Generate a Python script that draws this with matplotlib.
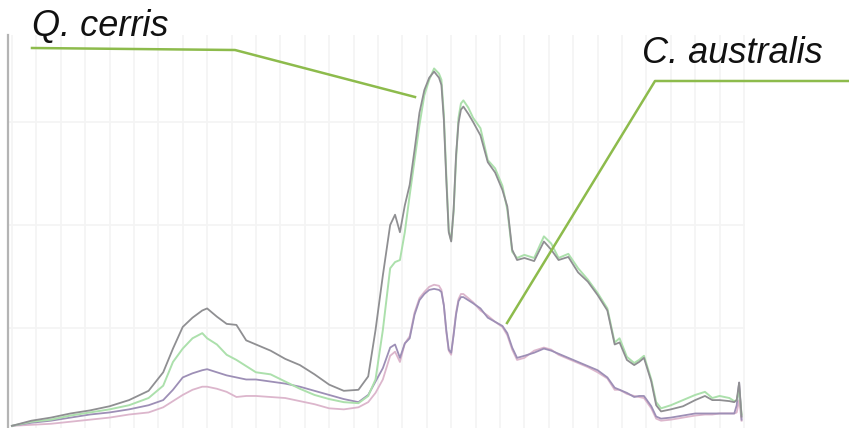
import matplotlib.pyplot as plt
from matplotlib.lines import Line2D

# channel positions shared by all four spectra
channel = [0, 8, 16, 24, 32, 40, 48, 56,
           62, 66, 70, 74, 78, 80, 84, 88, 92, 96,
           100, 106, 112, 118, 124, 130, 136, 142, 146, 149,
           152, 155, 157, 159, 161, 163, 165, 167, 169, 171,
           173, 175, 176, 177, 178, 179, 180, 181, 182, 183,
           184, 185, 187, 189, 192, 195, 198, 201, 203, 205,
           207, 210, 214, 218, 221, 224, 228, 232, 236, 240,
           244, 247, 249, 252, 255, 257, 259, 262, 264, 266,
           270, 275, 280, 284, 287, 290, 294, 296, 297, 298,
           299]

cerris_a = [5, 10, 13, 17, 20, 24, 30, 39,
            57, 80, 101, 110, 117, 119, 111, 104, 103, 88,
            84, 78, 70, 64, 55, 45, 39, 40, 53, 98,
            151, 200, 210, 193, 219, 239, 273, 309, 331, 343,
            349, 343, 336, 302, 244, 193, 184, 215, 268, 299,
            312, 315, 308, 300, 287, 261, 251, 234, 218, 176,
            166, 168, 165, 184, 176, 166, 169, 154, 145, 132,
            117, 84, 86, 69, 64, 67, 71, 48, 25, 19,
            21, 24, 30, 34, 30, 30, 29, 28, 30, 47,
            14]

cerris_b = [5, 9, 11, 15, 18, 21, 25, 32,
            44, 67, 80, 90, 95, 90, 84, 74, 69, 63,
            57, 55, 48, 41, 35, 31, 28, 27, 34, 50,
            98, 158, 164, 166, 193, 229, 263, 297, 326, 341,
            352, 347, 341, 307, 249, 195, 185, 213, 263, 304,
            318, 321, 314, 304, 294, 263, 255, 238, 215, 174,
            168, 171, 168, 189, 182, 168, 172, 158, 147, 134,
            119, 86, 90, 72, 66, 69, 73, 50, 28, 22,
            25, 30, 35, 38, 32, 34, 32, 29, 30, 40,
            16]

australis_a = [5, 8, 10, 13, 16, 18, 21, 25,
               30, 40, 52, 56, 59, 60, 57, 54, 52, 50,
               50, 48, 46, 43, 39, 35, 31, 28, 35, 48,
               61, 81, 84, 71, 85, 90, 113, 127, 133, 137,
               138, 137, 135, 122, 98, 79, 76, 93, 113, 126,
               130, 130, 127, 124, 119, 110, 106, 102, 95, 81,
               71, 73, 76, 80, 78, 75, 71, 67, 63, 59,
               52, 42, 40, 37, 33, 34, 34, 24, 14, 12,
               13, 15, 17, 17, 17, 17, 17, 17, 25, 47,
               11]

australis_b = [5, 6, 7, 9, 11, 13, 16, 18,
               23, 29, 35, 40, 43, 43, 41, 38, 33, 34,
               34, 33, 32, 29, 26, 22, 21, 23, 28, 37,
               50, 73, 77, 67, 85, 92, 115, 129, 135, 140,
               142, 141, 137, 122, 96, 78, 74, 95, 115, 128,
               133, 133, 129, 125, 117, 112, 106, 101, 93, 79,
               69, 71, 78, 81, 79, 74, 70, 66, 62, 57,
               51, 40, 40, 36, 34, 33, 32, 22, 12, 10,
               11, 13, 15, 16, 16, 17, 17, 17, 18, 30,
               10]

fig = plt.figure(figsize=(8.49, 4.28), dpi=100)
ax = fig.add_axes([8 / 849, 0, 737 / 849, 393 / 428])

ax.plot(channel, australis_b, color='#dcb6cc', lw=1.3)
ax.plot(channel, australis_a, color='#9d8fb6', lw=1.3)
ax.plot(channel, cerris_b, color='#ace0ac', lw=1.4)
ax.plot(channel, cerris_a, color='#8f8f92', lw=1.3)

ax.set_xlim(-1.6, 300.4)
ax.set_ylim(2.9, 384.5)
ax.set_xticks(range(0, 301, 10))
ax.set_yticks([100, 200, 300])
ax.grid(True, color='#f4f4f4', lw=1.3)
ax.set_axisbelow(True)
ax.tick_params(length=0, labelleft=False, labelbottom=False)
for side in ['top', 'right', 'bottom']:
    ax.spines[side].set_visible(False)
ax.spines['left'].set_color('#b4b4b4')
ax.spines['left'].set_linewidth(1.6)

# species labels with leader lines
W, H = 849, 428
fig.text(32 / W, 1 - 36 / H, 'Q. cerris', fontsize=26, style='italic',
         family='Liberation Sans', color='#111111')
fig.text(642 / W, 1 - 63 / H, 'C. australis', fontsize=26, style='italic',
         family='Liberation Sans', color='#111111')

leader = '#8dbb4c'
fig.add_artist(Line2D([32 / W, 235 / W, 415 / W],
                      [1 - 48 / H, 1 - 50 / H, 1 - 97 / H],
                      color=leader, lw=1.8, transform=fig.transFigure))
fig.add_artist(Line2D([849 / W, 655 / W, 507 / W],
                      [1 - 81 / H, 1 - 81 / H, 1 - 323 / H],
                      color=leader, lw=1.8, transform=fig.transFigure))

fig.savefig('out.png', dpi=100)
